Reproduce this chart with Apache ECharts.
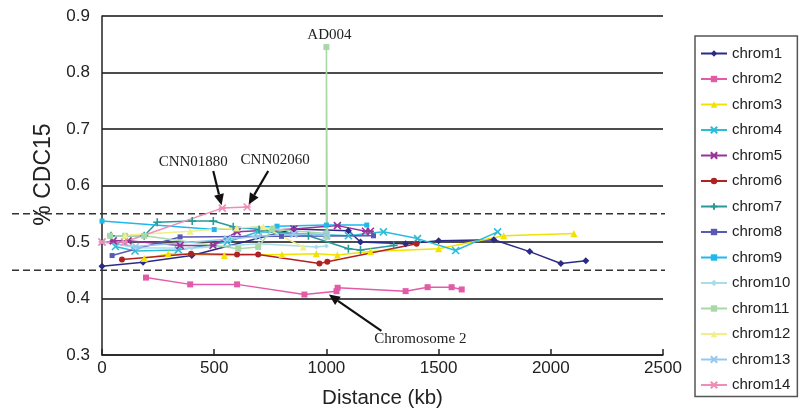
<!DOCTYPE html>
<html><head><meta charset="utf-8">
<script src="https://cdn.jsdelivr.net/npm/echarts@6/dist/echarts.min.js"></script>
<style>html,body{margin:0;padding:0;background:#fff}#c{width:800px;height:414px}</style>
</head><body><div id="c"></div>
<script>
// ---- data ----
const seriesNames = ['chrom1','chrom2','chrom3','chrom4','chrom5','chrom6','chrom7','chrom8','chrom9','chrom10','chrom11','chrom12','chrom13','chrom14'];
const chrom1 = [[0,0.457],[183,0.464],[400,0.476],[855,0.523],[1098,0.520],[1152,0.500],[1353,0.497],[1500,0.502],[1746,0.504],[1906,0.483],[2045,0.462],[2156,0.467]];
const chrom2 = [[196,0.437],[393,0.425],[602,0.425],[902,0.407],[1045,0.413],[1050,0.419],[1353,0.413],[1451,0.420],[1558,0.420],[1603,0.416]];
const chrom3 = [[188,0.471],[295,0.479],[545,0.476],[802,0.478],[955,0.479],[1049,0.477],[1196,0.483],[1500,0.488],[1790,0.511],[2103,0.515]];
const chrom4 = [[60,0.492],[147,0.484],[340,0.486],[558,0.500],[696,0.518],[1098,0.511],[1254,0.518],[1406,0.506],[1576,0.485],[1763,0.518]];
const chrom5 = [[50,0.502],[116,0.502],[348,0.494],[495,0.494],[602,0.518],[855,0.523],[1049,0.529],[1174,0.519],[1196,0.519]];
const chrom6 = [[89,0.469],[397,0.479],[602,0.478],[696,0.478],[969,0.462],[1004,0.465],[1402,0.497]];
const chrom7 = [[40,0.511],[188,0.511],[246,0.535],[402,0.537],[496,0.537],[585,0.527],[700,0.522],[920,0.511],[1098,0.488],[1152,0.486],[1300,0.494]];
const chrom8 = [[45,0.476],[348,0.509],[800,0.510],[1210,0.511]];
const chrom9 = [[0,0.537],[500,0.522],[780,0.528],[1000,0.530],[1180,0.530]];
const chrom10 = [[10,0.500],[150,0.490],[400,0.489],[700,0.497],[955,0.491],[1000,0.493]];
const chrom11 = [[36,0.511],[103,0.511],[188,0.511],[607,0.488],[696,0.491],[759,0.523],[1000,0.515],[1000,0.845],[1004,0.509]];
const chrom12 = [[103,0.512],[393,0.519],[600,0.525],[719,0.527],[897,0.491]];
const chrom13 = [[0,0.500],[150,0.492],[560,0.505],[696,0.510],[855,0.514],[1000,0.512]];
const chrom14 = [[0,0.500],[100,0.500],[536,0.560],[647,0.562]];
const seriesData = [chrom1,chrom2,chrom3,chrom4,chrom5,chrom6,chrom7,chrom8,chrom9,chrom10,chrom11,chrom12,chrom13,chrom14];
const xTicks = [0,500,1000,1500,2000,2500];
const yTicks = [0.3,0.4,0.5,0.6,0.7,0.8,0.9];
const thresholds = [0.45,0.55];
const annotations = [
  {text:'AD004', point:[1000,0.845], arrow:false},
  {text:'CNN01880', point:[536,0.560], arrow:true},
  {text:'CNN02060', point:[647,0.562], arrow:true},
  {text:'Chromosome 2', point:[1000,0.410], arrow:true}
];
// ---- styles ----
const colors = ['#2b2b86','#e35aa8','#f2e200','#2cbcd8','#993399','#b02222','#2a9a98','#5a5ab4','#1fb8ee','#aadcec','#a8d8a8','#f2ee8a','#96c8ee','#f08cb8'];
const X = 'path://M0,0L10,10M10,0L0,10';
const AST = 'path://M0,0L10,10M10,0L0,10M0,5L10,5';
const PLUS = 'path://M5,0L5,10M0,5L10,5';
const DASH = 'path://M0,4L10,4L10,6L0,6Z';
const symbols = ['diamond','rect','triangle',X,AST,'circle',PLUS,DASH,DASH,'diamond','rect','triangle',X,AST];
const sizes = [7,6,7,7,7,6,8,5,5,5,6,7,7,7];
const annOffsets = [
  {tx:3,ty:-12},
  {tx:-29,ty:-46,ax:-9,ay:-37},
  {tx:28,ty:-47,ax:21,ay:-36},
  {tx:94,ty:46,ax:55,ay:38}
];

const chart = echarts.init(document.getElementById('c'), null, {renderer:'canvas'});
const series = seriesNames.map((n,i)=>({
  name:n, type:'line', data:seriesData[i], symbol:symbols[i], symbolSize:sizes[i],
  showAllSymbol:true, animation:false,
  lineStyle:{color:colors[i], width:1.5},
  itemStyle:{color:colors[i], borderColor:colors[i], borderWidth:(symbols[i]===X||symbols[i]===AST||symbols[i]===PLUS)?1.6:0},
  z: 3
}));
chart.setOption({
  animation:false,
  grid:{left:102, right:137, top:16, bottom:57, containLabel:false},
  xAxis:{type:'value', min:xTicks[0], max:xTicks[xTicks.length-1], interval:500,
    name:'Distance (kb)', nameLocation:'middle', nameGap:33,
    nameTextStyle:{fontFamily:'Liberation Sans, Arial', fontSize:20.5, color:'#222'},
    axisLine:{lineStyle:{color:'#222', width:1.5}},
    axisTick:{inside:true, length:6, lineStyle:{color:'#222', width:1.5}},
    axisLabel:{fontFamily:'Liberation Sans, Arial', fontSize:17, color:'#222', margin:5, formatter:v=>String(v)},
    splitLine:{show:false}},
  yAxis:{type:'value', min:yTicks[0], max:yTicks[yTicks.length-1], interval:0.1,
    name:'% CDC15', nameLocation:'middle', nameGap:46,
    nameTextStyle:{fontFamily:'Liberation Sans, Arial', fontSize:23, color:'#222', padding:[0,0,0,22]},
    axisLine:{show:true, lineStyle:{color:'#222', width:1.5}},
    axisTick:{show:false},
    axisLabel:{fontFamily:'Liberation Sans, Arial', fontSize:17, color:'#222', margin:12, formatter:v=>v.toFixed(1)},
    splitLine:{show:true, lineStyle:{color:'#111', width:1.5}}},
  legend:{orient:'vertical', left:695, top:36, padding:[10,7,4,5], itemGap:10.5, itemHeight:8, itemWidth:26,
    borderColor:'#555', borderWidth:1.5, data:seriesNames,
    textStyle:{fontFamily:'Liberation Sans, Arial', fontSize:15, color:'#222', lineHeight:15}},
  series:series
});

function addGraphics(){
  const els = [];
  thresholds.forEach(t=>{
    const p = chart.convertToPixel({gridIndex:0},[0,t]);
    const pr = chart.convertToPixel({gridIndex:0},[xTicks[xTicks.length-1],t]);
    els.push({type:'line', shape:{x1:12,y1:p[1],x2:pr[0]+2,y2:p[1]}, style:{stroke:'#333', lineWidth:1.5, lineDash:[7,4]}, z:1});
  });
  annotations.forEach((a,i)=>{
    const p = chart.convertToPixel({gridIndex:0},a.point);
    const o = annOffsets[i];
    els.push({type:'text', x:p[0]+o.tx, y:p[1]+o.ty, style:{text:a.text, font:'15px "Liberation Serif", "Times New Roman", serif', fill:'#222', align:'center', verticalAlign:'middle'}, z:10});
    if(a.arrow){
      const sx = p[0]+o.ax, sy = p[1]+o.ay;
      const dx = p[0]-sx, dy = p[1]-sy, L = Math.hypot(dx,dy);
      const ux = dx/L, uy = dy/L;
      const ex = p[0]-ux*3, ey = p[1]-uy*3;
      const hb = 11, hw = 5;
      const bx = ex-ux*hb, by = ey-uy*hb;
      els.push({type:'line', shape:{x1:sx,y1:sy,x2:bx,y2:by}, style:{stroke:'#111', lineWidth:2.2}, z:10});
      els.push({type:'polygon', shape:{points:[[ex,ey],[bx-uy*hw,by+ux*hw],[bx+uy*hw,by-ux*hw]]}, style:{fill:'#111'}, z:10});
    }
  });
  chart.setOption({graphic:els});
}
addGraphics();
</script></body></html>
